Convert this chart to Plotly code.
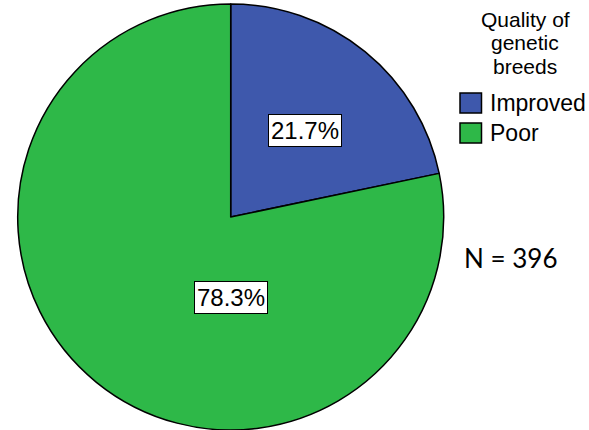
import plotly.graph_objects as go

categories = ["Improved", "Poor"]
counts = [86, 310]
colors = ["#3E58AC", "#2EB848"]
legend_title_lines = ["Quality of", "genetic", "breeds"]
n_label = "N = 396"

W, H = 589, 430
total = sum(counts)
pcts = [c / total * 100 for c in counts]

fig = go.Figure()
fig.add_trace(go.Pie(
    labels=categories,
    values=counts,
    sort=False,
    direction="clockwise",
    rotation=0,
    marker=dict(colors=colors, line=dict(color="black", width=1.5)),
    textinfo="none",
    hoverinfo="label+percent",
    showlegend=False,
    domain=dict(x=[(230.7 - 213) / W, (230.7 + 213) / W], y=[0, 426 / H]),
))

def px(x):
    return x / W

def py(y):
    return 1 - y / H

annotations = []
label_pos = [(304.5, 130), (231, 297)]
for p, (x, y) in zip(pcts, label_pos):
    annotations.append(dict(
        x=px(x), y=py(y), xref="paper", yref="paper",
        text=f"{p:.1f}%", showarrow=False,
        font=dict(family="Liberation Sans, Arial", size=24, color="black"),
        bgcolor="white", bordercolor="black", borderwidth=1, borderpad=2,
        xanchor="center", yanchor="middle",
    ))

for line, y in zip(legend_title_lines, [19, 43, 66]):
    annotations.append(dict(
        x=px(525), y=py(y), xref="paper", yref="paper", text=line,
        showarrow=False, font=dict(family="Liberation Sans, Arial", size=21, color="black"),
        xanchor="center", yanchor="middle",
    ))

shapes = []
for i, (cat, col) in enumerate(zip(categories, colors)):
    y0 = 93 + i * 30
    shapes.append(dict(type="rect", xref="paper", yref="paper",
                       x0=px(460), x1=px(481.5), y0=py(y0), y1=py(y0 + 20),
                       fillcolor=col, line=dict(color="black", width=1.5)))
    annotations.append(dict(
        x=px(488), y=py(y0 + 10), xref="paper", yref="paper", text=cat,
        showarrow=False, font=dict(family="Liberation Sans, Arial", size=23, color="black"),
        xanchor="left", yanchor="middle",
    ))

annotations.append(dict(
    x=px(510), y=py(258), xref="paper", yref="paper", text=n_label,
    showarrow=False, font=dict(family="Lato, Carlito, sans-serif", size=26, color="black"),
    xanchor="center", yanchor="middle",
))

fig.update_layout(
    width=W, height=H,
    margin=dict(l=0, r=0, t=0, b=0),
    paper_bgcolor="white", plot_bgcolor="white",
    annotations=annotations, shapes=shapes,
    showlegend=False,
)

fig.write_html("out.html")
